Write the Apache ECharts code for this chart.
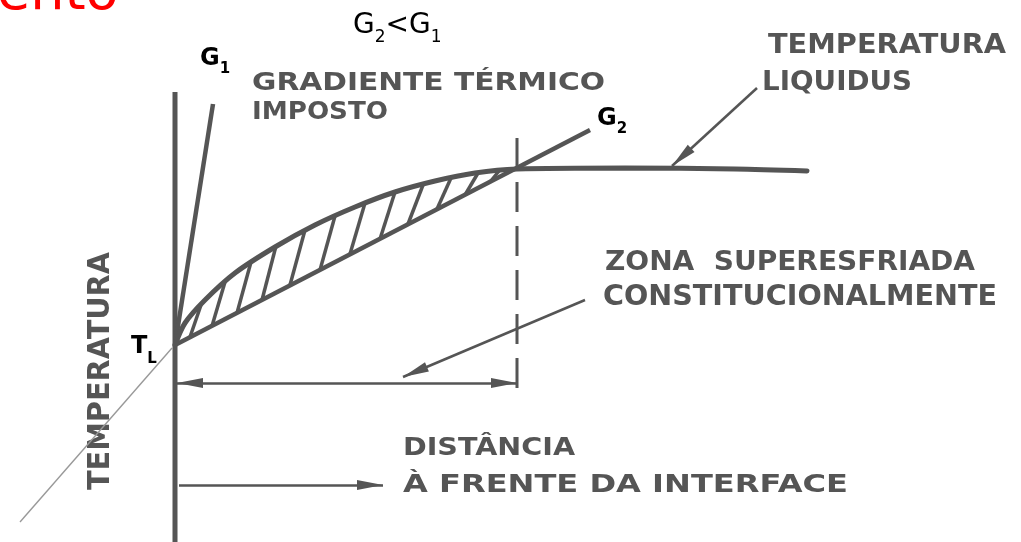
<!DOCTYPE html>
<html>
<head>
<meta charset="utf-8">
<script src="https://cdn.jsdelivr.net/npm/echarts@6/dist/echarts.min.js"></script>
<style>
  html, body { margin: 0; padding: 0; background: #fff; }
  #chart { width: 1021px; height: 542px; }
</style>
</head>
<body>
<div id="chart"></div>
<script>
// x = distância à frente da interface, y = temperatura acima de T_L (origem na interface)
var liquidus = [[0, 0], [10, 22], [30, 45], [60, 72], [100, 98], [140, 120], [180, 138], [220, 153],
  [260, 164], [300, 172], [342, 176], [450, 177], [560, 176], [632, 174]];
var gradG1 = [[0, 0], [38, 241]];
var gradG2 = [[0, 0], [415, 215]];
var interfaceLine = [[0, 253], [0, -197]];
var tempReal = [[-155, -177], [-3, -3]];
var zoneLimit = [[342, 207], [342, -47]];
// hachura: [x0, y0, x1, y1]
var hatch = [
  [15, 8, 26, 40], [37, 19, 50, 63], [62, 32, 76, 83], [87, 45, 101, 99],
  [115, 60, 130, 115], [145, 75, 160, 129], [175, 91, 190, 142], [205, 106, 220, 153],
  [233, 121, 248, 160], [262, 136, 276, 167], [290, 150, 303, 172], [315, 163, 324, 174]
];
// setas: [origem, ponta]
var zoneWidthL = [[170, -38], [2, -38]];
var zoneWidthR = [[170, -38], [342, -38]];
var distArrow = [[4, -140], [208, -140]];
var zoneArrow = [[410, 45], [228, -32]];
var liqArrow = [[582, 257], [497, 179]];

var ink = '#555';
var font = 'DejaVu Sans';

// rótulos: texto, canto esq., centro das maiúsculas, largura, altura das maiúsculas
var labels = [
  { text: 'GRADIENTE TÉRMICO', x: 252, y: 83, w: 353, cap: 18 },
  { text: 'IMPOSTO', x: 252, y: 112, w: 136, cap: 18 },
  { text: 'TEMPERATURA', x: 768, y: 46, w: 238, cap: 19 },
  { text: 'LIQUIDUS', x: 762, y: 83, w: 150, cap: 20 },
  { text: 'ZONA  SUPERESFRIADA', x: 605, y: 263, w: 370, cap: 20 },
  { text: 'CONSTITUCIONALMENTE', x: 603, y: 297, w: 394, cap: 21 },
  { text: 'DISTÂNCIA', x: 403, y: 448, w: 172, cap: 18 },
  { text: 'À FRENTE DA INTERFACE', x: 403, y: 485, w: 445, cap: 18 }
];

var chart = echarts.init(document.getElementById('chart'));

function seg(coords) {
  return { coords: coords };
}

// ponta de seta: triângulo estreito, recuado meio comprimento a partir da ponta
var headLen = 26;
function head(a) {
  var dx = a[1][0] - a[0][0], dy = a[1][1] - a[0][1];
  var d = Math.sqrt(dx * dx + dy * dy);
  return {
    value: [a[1][0] - dx / d * headLen / 2, a[1][1] - dy / d * headLen / 2],
    symbolRotate: Math.atan2(dy, dx) * 180 / Math.PI - 90
  };
}
var arrows = [zoneWidthL, zoneWidthR, distArrow, zoneArrow, liqArrow];

var option = {
  backgroundColor: '#fff',
  animation: false,
  grid: { left: 0, right: 0, top: 0, bottom: 0 },
  xAxis: { type: 'value', min: -175, max: 846, show: false },
  yAxis: { type: 'value', min: -197, max: 345, show: false },
  series: [
    {
      type: 'line', data: tempReal, symbol: 'none', silent: true,
      lineStyle: { color: '#999', width: 1.4 }
    },
    {
      type: 'line', data: interfaceLine, symbol: 'none', silent: true,
      lineStyle: { color: ink, width: 5 }
    },
    {
      type: 'line', data: gradG1, symbol: 'none', silent: true,
      lineStyle: { color: ink, width: 4.5 }
    },
    {
      type: 'line', data: gradG2, symbol: 'none', silent: true,
      lineStyle: { color: ink, width: 4.5 }
    },
    {
      type: 'line', data: liquidus, symbol: 'none', silent: true, smooth: 0.3,
      lineStyle: { color: ink, width: 5, cap: 'round' }
    },
    {
      type: 'line', data: zoneLimit, symbol: 'none', silent: true,
      lineStyle: { color: ink, width: 3, type: [30, 14] }
    },
    {
      type: 'lines', coordinateSystem: 'cartesian2d', silent: true,
      data: hatch.map(function (h) { return seg([[h[0], h[1]], [h[2], h[3]]]); }),
      lineStyle: { color: ink, width: 3.5, opacity: 1 }
    },
    {
      type: 'lines', coordinateSystem: 'cartesian2d', silent: true,
      data: arrows.map(seg),
      lineStyle: { color: ink, width: 2.5, opacity: 1 }
    },
    {
      type: 'scatter', silent: true, symbol: 'triangle', symbolSize: [10, headLen],
      itemStyle: { color: ink, opacity: 1 },
      data: arrows.map(head)
    }
  ]
};
chart.setOption(option);

var ctx = document.createElement('canvas').getContext('2d');
function fitScale(txt, f, w) {
  ctx.font = f;
  return w / ctx.measureText(txt).width;
}

var graphic = [];
labels.forEach(function (l) {
  var size = Math.round(l.cap / 0.729);
  var f = 'bold ' + size + 'px "' + font + '"';
  graphic.push({
    type: 'text', x: l.x, y: l.y, scaleX: fitScale(l.text, f, l.w), silent: true,
    style: { text: l.text, font: f, fill: ink, textAlign: 'left', textVerticalAlign: 'middle' }
  });
});

// TEMPERATURA vertical (eixo)
(function () {
  var txt = 'TEMPERATURA', f = 'bold 30px "' + font + '"';
  graphic.push({
    type: 'text', x: 101, y: 371, rotation: Math.PI / 2, scaleX: fitScale(txt, f, 238), silent: true,
    style: { text: txt, font: f, fill: ink, textAlign: 'center', textVerticalAlign: 'middle' }
  });
})();

function subLabel(x, y, main, sub, size, subSize, pad, color, weight) {
  return {
    type: 'text', x: x, y: y, silent: true,
    style: {
      text: '{b|' + main + '}{s|' + sub + '}',
      textAlign: 'left', textVerticalAlign: 'top',
      rich: {
        b: { fontSize: size, fontFamily: font, fontWeight: weight, color: color, verticalAlign: 'top', padding: [0, 0, pad, 0] },
        s: { fontSize: subSize, fontFamily: font, fontWeight: weight, color: color, verticalAlign: 'bottom' }
      }
    }
  };
}

graphic.push(subLabel(200, 47, 'G', '1', 24, 15, 6, ink, 'bold'));
graphic.push(subLabel(597, 107, 'G', '2', 24, 15, 6, ink, 'bold'));
graphic.push(subLabel(131, 335, 'T', 'L', 24, 15, 8, ink, 'bold'));
graphic.push({
  type: 'text', x: 353, y: 12, silent: true,
  style: {
    text: '{b|G}{s|2}{b|<G}{s|1}',
    textAlign: 'left', textVerticalAlign: 'top',
    rich: {
      b: { fontSize: 28, fontFamily: font, color: '#111', verticalAlign: 'top', padding: [0, 0, 6, 0] },
      s: { fontSize: 17, fontFamily: font, color: '#111', verticalAlign: 'bottom' }
    }
  }
});
// título do slide, cortado no topo
graphic.push({
  type: 'text', x: -3, y: 22, silent: true,
  style: { text: 'ento', font: '54px "' + font + '"', fill: '#ff0000', textAlign: 'left', textVerticalAlign: 'bottom' }
});

chart.setOption({ graphic: graphic });
</script>
</body>
</html>
